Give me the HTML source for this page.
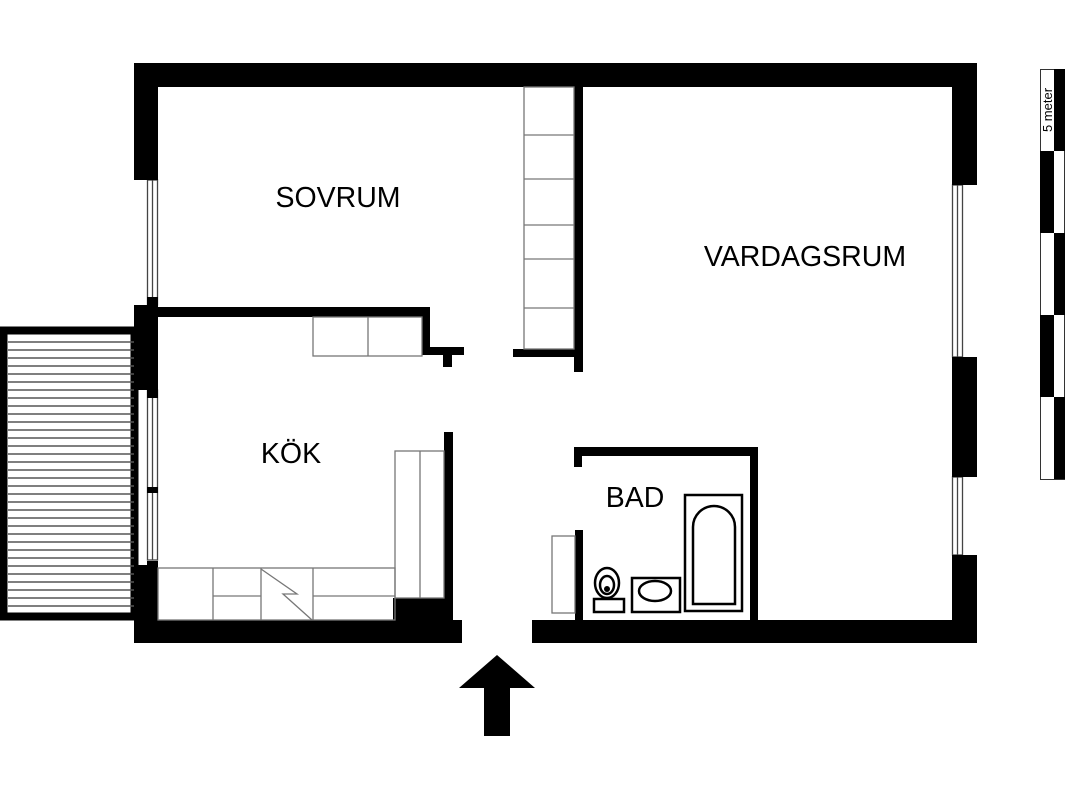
<!DOCTYPE html>
<html><head><meta charset="utf-8"><style>
html,body{margin:0;padding:0;background:#fff;}
svg{display:block}
text{font-family:"Liberation Sans",sans-serif;fill:#000}
</style></head><body>
<svg width="1067" height="800" viewBox="0 0 1067 800" xmlns="http://www.w3.org/2000/svg">
<!-- balcony -->
<rect x="3.5" y="330.5" width="131" height="286" fill="#fff" stroke="#000" stroke-width="8"/>
<g stroke="#555" stroke-width="1.6">
<line x1="8" x2="134" y1="342" y2="342"/><line x1="8" x2="134" y1="350" y2="350"/><line x1="8" x2="134" y1="358" y2="358"/><line x1="8" x2="134" y1="366" y2="366"/><line x1="8" x2="134" y1="374" y2="374"/><line x1="8" x2="134" y1="382" y2="382"/><line x1="8" x2="134" y1="390" y2="390"/><line x1="8" x2="134" y1="398" y2="398"/><line x1="8" x2="134" y1="406" y2="406"/><line x1="8" x2="134" y1="414" y2="414"/><line x1="8" x2="134" y1="422" y2="422"/><line x1="8" x2="134" y1="430" y2="430"/><line x1="8" x2="134" y1="438" y2="438"/><line x1="8" x2="134" y1="446" y2="446"/><line x1="8" x2="134" y1="454" y2="454"/><line x1="8" x2="134" y1="462" y2="462"/><line x1="8" x2="134" y1="470" y2="470"/><line x1="8" x2="134" y1="478" y2="478"/><line x1="8" x2="134" y1="486" y2="486"/><line x1="8" x2="134" y1="494" y2="494"/><line x1="8" x2="134" y1="502" y2="502"/><line x1="8" x2="134" y1="510" y2="510"/><line x1="8" x2="134" y1="518" y2="518"/><line x1="8" x2="134" y1="526" y2="526"/><line x1="8" x2="134" y1="534" y2="534"/><line x1="8" x2="134" y1="542" y2="542"/><line x1="8" x2="134" y1="550" y2="550"/><line x1="8" x2="134" y1="558" y2="558"/><line x1="8" x2="134" y1="566" y2="566"/><line x1="8" x2="134" y1="574" y2="574"/><line x1="8" x2="134" y1="582" y2="582"/><line x1="8" x2="134" y1="590" y2="590"/><line x1="8" x2="134" y1="598" y2="598"/><line x1="8" x2="134" y1="606" y2="606"/>
</g>
<!-- windows -->
<g fill="#fff" stroke="#444" stroke-width="1.3">
<rect x="147.5" y="180" width="10" height="125"/><line x1="152.5" x2="152.5" y1="180" y2="305"/>
<rect x="147.5" y="390" width="10" height="170"/><line x1="152.5" x2="152.5" y1="390" y2="560"/>
<rect x="952.5" y="185" width="10" height="172"/><line x1="957.5" x2="957.5" y1="185" y2="357"/>
<rect x="952.5" y="477" width="10" height="78"/><line x1="957.5" x2="957.5" y1="477" y2="555"/>
</g>
<g fill="#000">
<rect x="134" y="63" width="843" height="24"/>
<rect x="134" y="63" width="24" height="117"/>
<rect x="147" y="297" width="11" height="20"/>
<rect x="134" y="305" width="24" height="85"/>
<rect x="147" y="385" width="11" height="13"/>
<rect x="147" y="487" width="11" height="6"/>
<rect x="147" y="561" width="11" height="8"/>
<rect x="134" y="565" width="24" height="78"/>
<rect x="134" y="620" width="328" height="23"/>
<rect x="532" y="620" width="445" height="23"/>
<rect x="952" y="63" width="25" height="122"/>
<rect x="952" y="357" width="25" height="120"/>
<rect x="952" y="555" width="25" height="88"/>
<rect x="158" y="307" width="272" height="10"/>
<rect x="422" y="307" width="8" height="48"/>
<rect x="422" y="347" width="42" height="8"/>
<rect x="443" y="355" width="9" height="12"/>
<rect x="574" y="87" width="9" height="285"/>
<rect x="513" y="349" width="62" height="8"/>
<rect x="444" y="432" width="9" height="190"/>
<rect x="393" y="598" width="55" height="24"/>
<rect x="574" y="447" width="184" height="9"/>
<rect x="574" y="447" width="8" height="20"/>
<rect x="750" y="447" width="8" height="175"/>
<rect x="575" y="530" width="8" height="92"/>
<polygon points="497,655 535,688 510,688 510,736 484,736 484,688 459,688"/>
</g>
<g fill="none" stroke="#777" stroke-width="1.3">
<rect x="524" y="87" width="50" height="262"/>
<line x1="524" x2="574" y1="135" y2="135"/><line x1="524" x2="574" y1="179" y2="179"/><line x1="524" x2="574" y1="225" y2="225"/><line x1="524" x2="574" y1="259" y2="259"/><line x1="524" x2="574" y1="308" y2="308"/>
<rect x="313" y="317" width="109" height="39"/><line x1="368" x2="368" y1="317" y2="356"/>
<rect x="395" y="451" width="49" height="147"/><line x1="420" x2="420" y1="451" y2="598"/>
<rect x="158" y="568" width="237" height="52"/>
<line x1="213" x2="213" y1="568" y2="620"/><line x1="261" x2="261" y1="568" y2="620"/><line x1="313" x2="313" y1="568" y2="620"/>
<line x1="213" x2="261" y1="596" y2="596"/><line x1="313" x2="395" y1="596" y2="596"/>
<polyline points="261,569 297,594 283,594 312,620"/>
<rect x="552" y="536" width="23" height="77"/>
</g>
<g fill="none" stroke="#000" stroke-width="2.5">
<rect x="685" y="495" width="57" height="116"/>
<path d="M693,604 V527 a20,20 0 0 1 42,0 V604 Z"/>
<rect x="632" y="578" width="48" height="34"/>
<ellipse cx="655" cy="591" rx="16" ry="10"/>
<rect x="594" y="599" width="30" height="13"/>
<ellipse cx="607" cy="583" rx="12" ry="15"/>
<ellipse cx="607" cy="585" rx="7" ry="9"/>
</g>
<circle cx="607" cy="589" r="3" fill="#000"/>
<rect x="1040.5" y="69.5" width="24" height="410" fill="#fff" stroke="#333" stroke-width="1"/>
<g fill="#000">
<rect x="1054" y="69" width="11" height="82"/>
<rect x="1040" y="151" width="14" height="82"/>
<rect x="1054" y="233" width="11" height="82"/>
<rect x="1040" y="315" width="14" height="82"/>
<rect x="1054" y="397" width="11" height="82"/>
</g>
<text x="1052" y="110" font-size="13" text-anchor="middle" transform="rotate(-90 1052 110)">5 meter</text>
<text x="338" y="207" font-size="28.5" text-anchor="middle">SOVRUM</text>
<text x="805" y="266" font-size="28.5" text-anchor="middle">VARDAGSRUM</text>
<text x="291" y="463" font-size="28.5" text-anchor="middle">KÖK</text>
<text x="635" y="507" font-size="28.5" text-anchor="middle">BAD</text>
</svg>
</body></html>
